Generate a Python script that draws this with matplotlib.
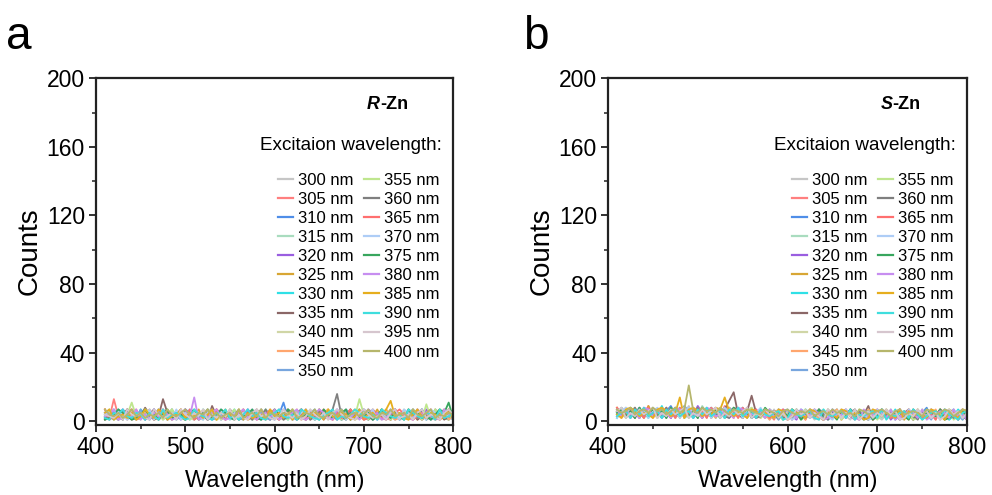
import numpy as np
import matplotlib
matplotlib.use("Agg")
import matplotlib.pyplot as plt
from matplotlib.ticker import MultipleLocator, AutoMinorLocator

plt.rcParams['font.family'] = ['Liberation Sans', 'DejaVu Sans']

# -----------------------------
# data (emission counts, 410-800 nm every 5 nm)
# -----------------------------
emission_nm = np.arange(410, 805, 5)
excitation = [300, 305, 310, 315, 320, 325, 330, 335, 340, 345, 350,
              355, 360, 365, 370, 375, 380, 385, 390, 395, 400]
colors = ['#c6c6c6', '#ff7f7f', '#4f8ee8', '#a9dcbf', '#9a5ee0', '#d8a634',
          '#2fe0e6', '#8b6767', '#d0d6a6', '#ffa66e', '#78a6de', '#bfe68e',
          '#7f7f7f', '#ff6f6f', '#aecdf6', '#38a65e', '#c78ef0', '#e6ae1e',
          '#3fdede', '#d6c6ce', '#b6b66c']

# panel a : R-Zn
a300 = [3, 5, 2, 4, 1, 7, 3, 2, 5, 4, 2, 3, 7, 1, 4, 5, 2, 3, 1, 4, 5, 2, 3, 7, 2, 1, 4, 3, 5, 2, 4, 1, 3, 5, 2, 7, 3, 1, 4, 2, 3, 5, 1, 4, 7, 2, 3, 5, 1, 3, 4, 2, 5, 3, 1, 4, 7, 2, 3, 5, 1, 4, 2, 3, 5, 2, 4, 1, 7, 3, 2, 5, 3, 1, 4, 2, 5, 3, 4]
a305 = [4, 2, 13, 3, 5, 1, 4, 7, 2, 3, 5, 1, 3, 4, 2, 7, 3, 5, 1, 4, 2, 5, 3, 1, 7, 4, 2, 3, 5, 1, 3, 4, 2, 5, 7, 1, 3, 4, 2, 5, 1, 3, 7, 2, 4, 5, 1, 3, 2, 4, 7, 3, 1, 5, 2, 4, 3, 7, 1, 2, 4, 5, 3, 2, 1, 7, 4, 3, 5, 2, 3, 1, 4, 7, 2, 5, 3, 4, 2]
a310 = [5, 3, 1, 4, 7, 2, 5, 3, 4, 1, 3, 7, 2, 5, 1, 4, 3, 2, 7, 5, 1, 4, 3, 5, 2, 7, 1, 3, 4, 2, 5, 3, 7, 1, 4, 2, 5, 3, 1, 4, 11, 2, 5, 3, 7, 1, 4, 2, 3, 5, 2, 4, 1, 7, 3, 5, 2, 4, 3, 1, 5, 2, 7, 3, 4, 1, 5, 2, 3, 7, 4, 1, 3, 5, 2, 4, 7, 3, 1]
a315 = [2, 4, 7, 3, 1, 5, 2, 4, 3, 7, 1, 5, 3, 2, 4, 7, 1, 3, 5, 2, 4, 3, 1, 7, 5, 2, 3, 4, 1, 5, 2, 7, 3, 4, 1, 5, 2, 3, 7, 4, 1, 3, 5, 2, 4, 3, 7, 1, 5, 2, 3, 4, 2, 5, 1, 7, 3, 2, 4, 5, 1, 3, 4, 7, 2, 3, 5, 1, 4, 2, 7, 3, 5, 2, 1, 4, 3, 5, 2]
a320 = [1, 3, 5, 2, 7, 4, 1, 3, 5, 2, 4, 7, 1, 3, 2, 5, 4, 1, 7, 3, 2, 4, 5, 1, 3, 7, 2, 5, 3, 4, 1, 2, 7, 4, 3, 5, 1, 4, 2, 7, 3, 5, 2, 1, 4, 7, 3, 2, 5, 1, 4, 3, 7, 2, 5, 1, 3, 4, 2, 7, 5, 1, 3, 2, 4, 7, 2, 5, 3, 1, 4, 2, 7, 3, 5, 1, 4, 2, 3]
a325 = [7, 2, 4, 1, 3, 5, 7, 2, 4, 3, 5, 1, 2, 7, 4, 3, 5, 2, 1, 4, 3, 7, 2, 4, 5, 1, 3, 7, 2, 4, 5, 3, 1, 2, 7, 4, 2, 5, 3, 1, 4, 7, 3, 5, 2, 1, 4, 3, 7, 2, 5, 1, 4, 2, 3, 7, 1, 5, 4, 2, 3, 7, 2, 4, 1, 5, 3, 2, 7, 4, 1, 5, 2, 3, 4, 7, 2, 1, 5]
a330 = [3, 1, 4, 7, 2, 5, 3, 1, 7, 4, 2, 5, 3, 4, 1, 7, 2, 3, 5, 1, 4, 2, 7, 3, 1, 5, 4, 2, 3, 7, 1, 4, 5, 2, 3, 1, 7, 4, 2, 5, 3, 1, 4, 5, 7, 2, 3, 1, 4, 5, 2, 7, 3, 1, 4, 2, 5, 7, 1, 3, 4, 2, 5, 1, 7, 3, 2, 4, 5, 2, 3, 7, 1, 4, 2, 5, 3, 1, 4]
a335 = [2, 5, 3, 1, 4, 7, 2, 5, 3, 8, 4, 1, 3, 13, 5, 2, 4, 7, 1, 3, 5, 2, 4, 1, 9, 3, 5, 2, 7, 4, 1, 3, 5, 2, 4, 7, 3, 1, 5, 2, 4, 7, 1, 3, 5, 2, 4, 1, 7, 3, 2, 5, 4, 1, 3, 7, 2, 4, 5, 1, 3, 2, 7, 4, 1, 5, 3, 2, 4, 7, 1, 3, 5, 2, 7, 4, 1, 3, 5]
a340 = [4, 7, 2, 3, 5, 1, 4, 3, 2, 7, 3, 5, 1, 4, 2, 7, 3, 5, 4, 2, 1, 3, 7, 5, 2, 4, 1, 3, 7, 2, 4, 5, 3, 1, 2, 7, 4, 3, 5, 1, 2, 4, 7, 3, 1, 5, 2, 7, 3, 4, 1, 5, 2, 4, 7, 3, 1, 2, 5, 4, 7, 3, 1, 5, 2, 4, 3, 7, 1, 5, 2, 4, 3, 1, 7, 5, 2, 4, 3]
a345 = [1, 4, 3, 5, 2, 7, 1, 4, 2, 5, 7, 3, 4, 2, 5, 1, 3, 7, 2, 4, 5, 1, 2, 4, 3, 7, 5, 1, 4, 2, 3, 7, 1, 5, 4, 2, 3, 5, 7, 1, 4, 2, 3, 7, 1, 5, 4, 2, 3, 5, 7, 1, 4, 3, 2, 5, 7, 3, 1, 4, 2, 5, 4, 7, 3, 1, 2, 5, 4, 3, 7, 1, 3, 5, 2, 4, 7, 1, 3]
a350 = [5, 2, 7, 1, 4, 3, 5, 2, 7, 3, 1, 4, 7, 3, 2, 5, 1, 4, 3, 7, 2, 5, 4, 3, 1, 2, 7, 4, 5, 3, 2, 1, 4, 7, 3, 5, 2, 1, 4, 3, 7, 5, 2, 4, 3, 1, 5, 7, 2, 4, 3, 2, 5, 1, 7, 4, 2, 3, 7, 5, 1, 4, 3, 2, 5, 7, 1, 4, 2, 3, 5, 7, 4, 1, 3, 2, 5, 7, 4]
a355 = [3, 7, 1, 5, 2, 4, 11, 3, 1, 7, 5, 2, 4, 1, 3, 7, 2, 5, 4, 1, 3, 4, 2, 7, 5, 1, 3, 2, 4, 7, 1, 5, 3, 2, 4, 1, 7, 3, 2, 5, 4, 1, 7, 5, 2, 3, 4, 1, 5, 2, 7, 3, 4, 1, 5, 2, 3, 13, 4, 1, 5, 2, 7, 3, 1, 4, 2, 5, 3, 7, 4, 1, 10, 2, 7, 3, 4, 5, 1]
a360 = [2, 3, 5, 4, 1, 7, 2, 3, 5, 1, 4, 7, 2, 3, 5, 1, 4, 2, 7, 3, 5, 1, 3, 7, 4, 2, 5, 1, 3, 4, 7, 2, 4, 1, 5, 3, 7, 2, 4, 5, 1, 3, 2, 5, 7, 4, 1, 3, 5, 2, 4, 7, 16, 3, 1, 5, 2, 4, 7, 3, 1, 5, 3, 4, 2, 7, 1, 3, 4, 5, 2, 7, 1, 3, 5, 4, 2, 7, 1]
a365 = [7, 1, 3, 2, 5, 4, 7, 1, 2, 4, 3, 5, 2, 7, 1, 3, 4, 5, 2, 7, 1, 3, 5, 4, 2, 7, 3, 1, 5, 2, 4, 7, 3, 5, 1, 2, 4, 7, 3, 1, 5, 2, 4, 3, 7, 1, 5, 2, 4, 7, 3, 1, 5, 2, 4, 7, 3, 5, 1, 2, 7, 4, 2, 1, 3, 5, 7, 4, 2, 1, 3, 5, 4, 7, 1, 2, 3, 5, 4]
a370 = [4, 5, 2, 7, 3, 1, 4, 5, 3, 2, 7, 1, 5, 3, 4, 2, 7, 1, 5, 3, 4, 2, 1, 5, 7, 3, 2, 4, 1, 5, 3, 5, 2, 4, 7, 1, 3, 5, 2, 7, 4, 3, 1, 2, 5, 7, 4, 1, 3, 2, 5, 4, 2, 7, 1, 3, 5, 2, 4, 3, 7, 1, 5, 3, 2, 4, 1, 7, 5, 2, 4, 3, 1, 7, 5, 2, 4, 3, 7]
a375 = [1, 2, 4, 7, 5, 3, 1, 2, 4, 7, 3, 4, 1, 5, 7, 2, 3, 4, 1, 5, 7, 2, 5, 1, 3, 4, 7, 5, 2, 1, 5, 3, 4, 7, 2, 1, 5, 3, 7, 4, 2, 7, 5, 1, 3, 4, 2, 5, 1, 7, 4, 2, 3, 5, 7, 1, 4, 2, 3, 5, 1, 3, 7, 4, 2, 5, 3, 1, 7, 4, 5, 2, 3, 1, 4, 7, 5, 11, 2]
a380 = [3, 4, 7, 1, 2, 5, 3, 7, 1, 4, 2, 5, 3, 7, 4, 1, 2, 5, 7, 3, 14, 1, 4, 2, 5, 7, 3, 1, 2, 4, 5, 7, 2, 3, 1, 4, 5, 2, 7, 1, 3, 4, 5, 7, 2, 1, 3, 4, 7, 5, 2, 1, 7, 4, 3, 2, 5, 1, 4, 7, 3, 5, 1, 2, 7, 4, 3, 5, 2, 1, 7, 4, 5, 3, 2, 1, 7, 4, 5]
a385 = [5, 7, 1, 3, 4, 2, 5, 1, 3, 7, 4, 2, 7, 5, 1, 3, 4, 7, 2, 5, 3, 5, 2, 4, 7, 1, 5, 3, 4, 2, 7, 1, 5, 2, 3, 4, 1, 7, 3, 5, 2, 5, 1, 4, 3, 7, 2, 5, 4, 1, 7, 3, 2, 5, 4, 1, 3, 7, 2, 4, 5, 2, 4, 7, 12, 3, 5, 2, 1, 4, 7, 3, 2, 5, 4, 1, 3, 7, 2]
a390 = [2, 1, 5, 4, 7, 3, 2, 5, 4, 1, 5, 3, 1, 7, 2, 4, 5, 3, 1, 2, 7, 4, 3, 2, 1, 5, 4, 7, 2, 3, 1, 4, 7, 3, 5, 2, 1, 4, 5, 7, 3, 2, 4, 1, 7, 5, 3, 2, 1, 4, 5, 7, 1, 3, 2, 4, 7, 5, 3, 2, 4, 1, 7, 5, 3, 2, 4, 1, 7, 5, 3, 2, 5, 4, 1, 7, 2, 3, 5]
a395 = [4, 3, 2, 5, 1, 7, 4, 3, 5, 2, 1, 7, 4, 2, 3, 5, 1, 7, 4, 2, 5, 3, 7, 1, 4, 2, 5, 3, 7, 1, 4, 2, 1, 5, 7, 3, 4, 2, 1, 3, 7, 4, 2, 5, 1, 3, 7, 4, 2, 5, 1, 5, 7, 4, 3, 2, 1, 5, 7, 4, 2, 3, 4, 1, 5, 7, 2, 3, 4, 1, 5, 7, 2, 4, 3, 1, 5, 7, 4]
a400 = [7, 4, 3, 5, 2, 4, 7, 3, 5, 2, 4, 3, 5, 2, 7, 4, 3, 5, 7, 4, 2, 5, 4, 7, 3, 5, 2, 4, 5, 3, 7, 2, 4, 5, 3, 7, 2, 5, 4, 3, 5, 4, 7, 2, 3, 5, 4, 7, 3, 2, 4, 5, 3, 7, 2, 4, 5, 3, 4, 7, 3, 2, 5, 4, 7, 3, 4, 5, 2, 7, 4, 3, 5, 7, 2, 4, 3, 5, 4]

# panel b : S-Zn
b300 = [5, 7, 3, 8, 4, 6, 2, 7, 5, 3, 8, 4, 6, 2, 7, 5, 9, 3, 6, 4, 7, 2, 5, 8, 3, 6, 4, 7, 2, 5, 8, 3, 4, 6, 2, 7, 1, 5, 3, 6, 4, 2, 7, 5, 1, 3, 6, 4, 2, 5, 7, 3, 1, 6, 4, 2, 5, 7, 3, 1, 4, 6, 2, 5, 3, 7, 1, 4, 6, 2, 5, 3, 7, 4, 1, 6, 2, 5, 4]
b305 = [6, 3, 8, 5, 2, 7, 4, 9, 3, 6, 5, 8, 2, 7, 4, 6, 3, 8, 5, 2, 7, 4, 6, 3, 9, 5, 2, 7, 4, 8, 3, 5, 2, 6, 4, 1, 7, 3, 5, 2, 6, 4, 1, 7, 3, 5, 2, 6, 4, 7, 1, 5, 3, 6, 2, 4, 7, 1, 5, 3, 6, 2, 4, 7, 3, 5, 1, 6, 2, 4, 7, 3, 5, 1, 6, 4, 2, 7, 3]
b310 = [4, 8, 5, 2, 7, 3, 6, 4, 8, 5, 2, 6, 9, 4, 3, 7, 5, 2, 6, 8, 4, 3, 7, 5, 2, 8, 6, 3, 5, 7, 2, 4, 6, 3, 7, 5, 2, 4, 1, 6, 3, 7, 5, 2, 4, 6, 1, 3, 7, 5, 4, 2, 6, 3, 1, 5, 7, 4, 2, 6, 3, 5, 1, 7, 4, 2, 6, 3, 5, 8, 2, 4, 6, 3, 5, 7, 1, 4, 6]
b315 = [7, 5, 2, 6, 8, 4, 3, 7, 5, 2, 6, 3, 8, 5, 4, 7, 2, 6, 3, 9, 5, 7, 4, 2, 6, 8, 3, 5, 7, 4, 6, 2, 5, 7, 1, 4, 3, 6, 2, 5, 7, 4, 2, 6, 3, 5, 7, 1, 4, 6, 2, 5, 3, 7, 4, 6, 1, 5, 3, 2, 7, 4, 6, 2, 5, 3, 1, 7, 4, 6, 3, 5, 2, 6, 4, 7, 3, 1, 5]
b320 = [3, 6, 7, 4, 5, 2, 8, 6, 3, 7, 4, 5, 2, 8, 6, 3, 7, 4, 9, 5, 3, 6, 8, 4, 7, 2, 5, 6, 3, 8, 4, 7, 3, 5, 6, 2, 4, 7, 5, 3, 1, 6, 4, 2, 7, 5, 3, 6, 4, 2, 5, 7, 3, 1, 6, 4, 2, 5, 7, 3, 6, 1, 4, 7, 2, 5, 6, 3, 4, 2, 7, 5, 3, 6, 2, 4, 5, 7, 3]
b325 = [8, 4, 6, 3, 7, 5, 2, 9, 4, 6, 3, 7, 5, 8, 2, 6, 4, 3, 7, 5, 8, 2, 6, 4, 5, 7, 3, 8, 2, 6, 5, 3, 7, 2, 4, 6, 5, 1, 3, 7, 4, 2, 5, 6, 3, 7, 1, 4, 2, 5, 6, 3, 7, 4, 2, 5, 1, 6, 3, 4, 7, 2, 5, 3, 6, 4, 2, 7, 1, 5, 3, 6, 4, 2, 7, 5, 3, 6, 2]
b330 = [2, 7, 4, 8, 3, 6, 5, 2, 7, 4, 9, 3, 6, 5, 8, 2, 4, 7, 3, 6, 5, 8, 2, 7, 4, 3, 6, 5, 8, 2, 7, 4, 3, 6, 5, 2, 7, 1, 4, 6, 5, 3, 7, 2, 6, 4, 1, 5, 3, 7, 2, 6, 4, 5, 3, 1, 7, 2, 6, 4, 5, 3, 7, 1, 4, 6, 2, 5, 3, 7, 4, 2, 6, 5, 1, 3, 7, 4, 2]
b335 = [6, 5, 3, 7, 2, 8, 4, 6, 3, 5, 7, 2, 8, 4, 6, 3, 5, 7, 2, 8, 4, 6, 3, 5, 7, 12, 17, 4, 2, 6, 15, 5, 3, 7, 2, 4, 6, 3, 5, 1, 7, 4, 2, 6, 5, 3, 1, 7, 4, 2, 6, 3, 5, 7, 2, 4, 9, 1, 6, 3, 5, 4, 2, 7, 3, 6, 1, 5, 4, 2, 6, 3, 7, 5, 2, 4, 1, 6, 3]
b340 = [5, 3, 8, 6, 4, 7, 2, 5, 8, 3, 6, 4, 7, 2, 5, 9, 3, 6, 4, 8, 2, 7, 5, 3, 6, 4, 8, 2, 7, 5, 3, 6, 4, 2, 7, 5, 3, 1, 6, 4, 2, 5, 7, 3, 6, 1, 4, 2, 5, 7, 3, 6, 4, 1, 5, 2, 7, 3, 6, 4, 2, 5, 1, 7, 3, 6, 4, 2, 5, 3, 7, 1, 6, 4, 2, 5, 3, 7, 4]
b345 = [7, 2, 5, 4, 8, 3, 6, 7, 2, 5, 4, 8, 3, 6, 7, 2, 5, 4, 8, 3, 6, 5, 2, 7, 4, 8, 3, 6, 5, 2, 7, 3, 6, 4, 1, 5, 7, 2, 4, 6, 3, 5, 1, 7, 4, 2, 6, 3, 5, 7, 1, 4, 6, 2, 5, 3, 7, 1, 4, 6, 2, 5, 3, 7, 4, 1, 6, 2, 5, 4, 3, 7, 1, 6, 5, 2, 4, 3, 7]
b350 = [4, 6, 7, 2, 5, 8, 3, 4, 6, 7, 2, 5, 8, 3, 4, 9, 6, 2, 5, 7, 3, 8, 4, 6, 2, 5, 7, 3, 8, 4, 6, 2, 7, 5, 3, 4, 1, 6, 7, 2, 5, 3, 4, 6, 2, 7, 5, 1, 3, 4, 6, 2, 7, 5, 3, 1, 4, 6, 2, 7, 5, 3, 4, 1, 6, 2, 7, 5, 3, 4, 1, 6, 2, 7, 3, 5, 4, 1, 6]
b355 = [3, 8, 2, 6, 7, 4, 5, 3, 8, 2, 6, 7, 4, 5, 3, 8, 2, 6, 7, 4, 5, 3, 8, 6, 2, 7, 4, 5, 3, 6, 8, 4, 2, 5, 7, 3, 6, 4, 2, 5, 7, 1, 3, 6, 4, 5, 2, 7, 3, 6, 1, 4, 5, 2, 7, 3, 6, 4, 1, 5, 2, 7, 3, 6, 4, 5, 1, 2, 7, 3, 6, 4, 5, 2, 7, 1, 3, 6, 5]
b360 = [6, 4, 5, 3, 8, 2, 7, 6, 4, 5, 3, 8, 2, 7, 6, 4, 5, 3, 8, 2, 7, 6, 4, 5, 3, 2, 8, 7, 6, 4, 5, 2, 3, 7, 4, 6, 5, 2, 3, 7, 4, 6, 2, 5, 3, 7, 4, 1, 6, 2, 5, 3, 7, 4, 6, 2, 1, 5, 3, 7, 4, 6, 2, 3, 5, 7, 4, 1, 6, 2, 5, 3, 7, 4, 6, 2, 5, 3, 1]
b365 = [8, 5, 4, 7, 3, 6, 2, 8, 5, 4, 7, 3, 6, 2, 8, 5, 4, 7, 3, 6, 2, 8, 5, 7, 4, 3, 6, 2, 8, 5, 4, 7, 3, 6, 2, 5, 4, 7, 1, 3, 6, 2, 5, 4, 7, 3, 1, 6, 2, 5, 4, 7, 3, 6, 1, 5, 2, 4, 7, 3, 6, 2, 5, 1, 4, 7, 3, 6, 2, 5, 4, 1, 7, 3, 6, 5, 2, 4, 7]
b370 = [2, 6, 8, 5, 4, 3, 7, 2, 6, 8, 5, 4, 3, 7, 2, 6, 8, 5, 4, 3, 7, 2, 6, 4, 8, 5, 3, 7, 2, 6, 4, 5, 8, 3, 6, 2, 7, 5, 4, 1, 3, 6, 5, 2, 7, 4, 6, 3, 1, 5, 2, 7, 4, 6, 3, 5, 1, 2, 7, 4, 6, 3, 5, 2, 1, 7, 4, 6, 3, 5, 2, 4, 1, 7, 6, 3, 5, 2, 4]
b375 = [5, 7, 3, 6, 2, 8, 4, 5, 7, 3, 6, 2, 8, 4, 5, 7, 3, 6, 2, 8, 4, 5, 7, 2, 6, 3, 8, 4, 5, 7, 2, 6, 3, 8, 5, 4, 2, 6, 3, 7, 5, 1, 4, 6, 3, 7, 2, 5, 4, 1, 6, 3, 7, 2, 4, 5, 6, 1, 3, 7, 2, 4, 5, 6, 3, 1, 7, 2, 4, 5, 6, 3, 7, 1, 2, 4, 5, 6, 3]
b380 = [7, 3, 6, 4, 5, 2, 8, 7, 3, 6, 4, 5, 2, 8, 7, 3, 6, 4, 5, 2, 8, 7, 3, 4, 6, 5, 2, 8, 7, 3, 4, 6, 5, 2, 7, 3, 4, 6, 1, 5, 2, 7, 3, 4, 6, 5, 1, 2, 7, 3, 4, 6, 5, 2, 1, 7, 3, 4, 6, 5, 2, 7, 1, 3, 4, 6, 5, 2, 7, 1, 3, 4, 6, 5, 2, 7, 3, 4, 1]
b385 = [4, 2, 7, 8, 6, 3, 5, 4, 2, 7, 8, 6, 3, 5, 14, 2, 7, 8, 6, 3, 5, 4, 8, 7, 14, 6, 3, 5, 4, 2, 7, 6, 3, 5, 4, 2, 7, 6, 1, 3, 5, 4, 2, 7, 6, 3, 1, 5, 4, 2, 7, 6, 3, 5, 4, 1, 2, 7, 6, 3, 5, 4, 2, 7, 1, 6, 3, 5, 4, 2, 7, 6, 3, 1, 5, 4, 2, 7, 6]
b390 = [3, 5, 6, 2, 7, 4, 8, 3, 5, 6, 2, 7, 4, 8, 3, 5, 6, 2, 7, 4, 8, 3, 5, 6, 2, 7, 4, 8, 3, 5, 6, 2, 7, 4, 3, 5, 6, 1, 2, 7, 4, 3, 5, 6, 2, 1, 7, 4, 3, 5, 6, 2, 7, 1, 4, 3, 5, 6, 2, 7, 1, 4, 3, 5, 6, 2, 7, 4, 1, 3, 5, 6, 2, 7, 4, 3, 1, 5, 6]
b395 = [6, 8, 2, 5, 3, 7, 4, 6, 8, 2, 5, 3, 7, 4, 6, 8, 2, 5, 3, 7, 4, 6, 8, 2, 5, 3, 7, 4, 6, 8, 2, 5, 3, 7, 4, 6, 2, 5, 1, 3, 7, 4, 6, 2, 5, 3, 1, 7, 4, 6, 2, 5, 3, 7, 1, 4, 6, 2, 5, 3, 7, 4, 6, 1, 2, 5, 3, 7, 4, 6, 2, 5, 1, 3, 7, 4, 6, 2, 5]
b400 = [7, 5, 6, 8, 4, 6, 7, 5, 8, 6, 7, 4, 6, 8, 5, 7, 21, 6, 5, 8, 6, 7, 5, 8, 6, 4, 7, 6, 5, 7, 6, 5, 4, 7, 6, 5, 3, 6, 7, 5, 4, 6, 5, 7, 3, 5, 6, 4, 7, 5, 6, 4, 5, 3, 7, 6, 4, 5, 6, 7, 5, 3, 6, 7, 4, 5, 6, 5, 3, 7, 6, 4, 5, 7, 6, 3, 5, 7, 6]

series_a = [a300, a305, a310, a315, a320, a325, a330, a335, a340, a345, a350,
            a355, a360, a365, a370, a375, a380, a385, a390, a395, a400]
series_b = [b300, b305, b310, b315, b320, b325, b330, b335, b340, b345, b350,
            b355, b360, b365, b370, b375, b380, b385, b390, b395, b400]

# -----------------------------
# plot
# -----------------------------
fig = plt.figure(figsize=(9.92, 4.95), dpi=100)
ax_a = fig.add_axes([0.0968, 0.1424, 0.360, 0.6996])
ax_b = fig.add_axes([0.6129, 0.1424, 0.362, 0.6996])


def draw_panel(ax, series, tag):
    for ex, col, ys in zip(excitation, colors, series):
        ax.plot(emission_nm[:len(ys)], ys, color=col, lw=1.3, label=f"{ex} nm")

    ax.set_xlim(400, 800)
    ax.set_ylim(-1.8, 200)
    ax.xaxis.set_major_locator(MultipleLocator(100))
    ax.xaxis.set_minor_locator(AutoMinorLocator(2))
    ax.yaxis.set_major_locator(MultipleLocator(40))
    ax.yaxis.set_minor_locator(AutoMinorLocator(2))
    ax.tick_params(which='major', direction='out', length=5, width=1.3,
                   labelsize=16.5, color='#222222', pad=3)
    ax.tick_params(which='minor', direction='out', length=3, width=1.1,
                   color='#222222')
    for sp in ax.spines.values():
        sp.set_linewidth(1.6)
        sp.set_color('#222222')

    ax.set_xlabel("Wavelength (nm)", fontsize=17, labelpad=8)
    ax.set_ylabel("Counts", fontsize=20, labelpad=3)

    t1 = ax.text(0.759, 0.925, tag, transform=ax.transAxes, fontsize=13,
                 fontweight='bold', style='italic', va='center', ha='left')
    ax.annotate("-Zn", xy=(1, 0), xycoords=t1, fontsize=13,
                fontweight='bold', va='bottom', ha='left')
    ax.text(0.968, 0.807, "Excitaion wavelength:", transform=ax.transAxes,
            fontsize=13.6, va='center', ha='right')

    leg = ax.legend(ncol=2, loc='upper right', bbox_to_anchor=(0.962, 0.727),
                    frameon=False, fontsize=12, handlelength=0.9,
                    handletextpad=0.3, columnspacing=0.6, labelspacing=0.245,
                    borderpad=0, borderaxespad=0)
    for h in leg.get_lines():
        h.set_linewidth(1.6)


draw_panel(ax_a, series_a, "R")
draw_panel(ax_b, series_b, "S")

fig.text(0.006, 0.902, "a", fontsize=33, va='baseline')
fig.text(0.527, 0.902, "b", fontsize=33, va='baseline')

fig.savefig("out.png", dpi=100)
